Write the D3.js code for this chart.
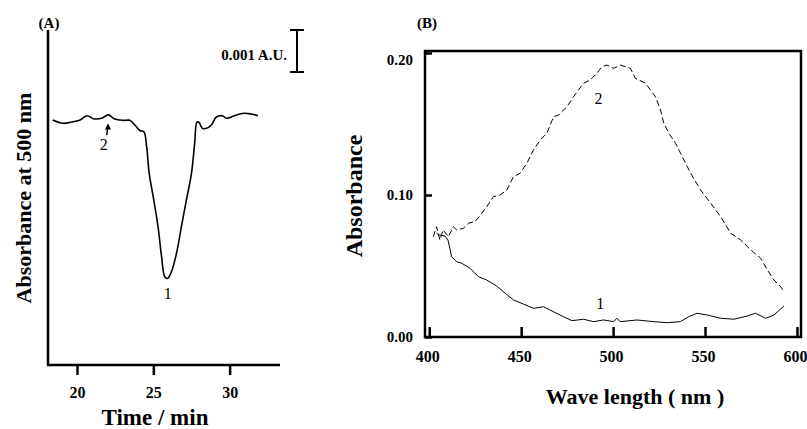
<!DOCTYPE html>
<html>
<head>
<meta charset="utf-8">
<script src="https://cdn.jsdelivr.net/npm/d3@7"></script>
<style>
  body { margin: 0; background: #fff; }
  text { font-family: "Liberation Serif", "Times New Roman", serif; fill: #000; }
</style>
</head>
<body>
<svg width="807" height="429"></svg>
<script>
// ---- data: panel A, chromatogram (time in min, relative absorbance in mAU) ----
var timeA = [18.41, 19.08, 19.65, 20.20, 20.67, 21.07, 21.61, 22.05, 22.48, 23.03, 23.46, 23.79,
             24.12, 24.38, 24.56, 24.73, 24.99, 25.31, 25.54, 25.75, 25.93, 26.19, 26.52, 26.84,
             27.17, 27.50, 27.71, 27.86, 27.99, 28.22, 28.48, 28.80, 29.13, 29.52, 29.78, 30.11,
             30.44, 30.98, 31.42, 31.85];
var absA  = [5.26, 5.18, 5.21, 5.26, 5.36, 5.29, 5.30, 5.38, 5.28, 5.25, 5.25, 5.14,
             5.01, 4.98, 4.63, 3.99, 3.44, 2.72, 2.01, 1.53, 1.49, 1.65, 2.09, 2.72,
             3.36, 3.99, 4.71, 5.21, 5.20, 5.06, 5.06, 5.14, 5.33, 5.36, 5.30, 5.33,
             5.38, 5.42, 5.40, 5.36];
var ticksA = [20, 25, 30];

// ---- data: panel B, spectra ----
var wave1 = [404.0, 405.8, 408.6, 410.2, 412.2, 414.9, 417.7, 422.2, 426.7, 431.3, 436.7, 441.3,
             445.8, 451.2, 456.7, 462.1, 467.6, 473.0, 477.6, 483.9, 489.4, 494.8, 500.3, 502.1,
             503.9, 513.0, 522.1, 529.4, 536.6, 541.1, 545.7, 551.2, 558.4, 565.7, 573.0, 577.5,
             583.0, 587.5, 592.9];
var abs1  = [0.0730, 0.0718, 0.0711, 0.0683, 0.0565, 0.0530, 0.0519, 0.0484, 0.0425, 0.0401, 0.0359, 0.0308,
             0.0261, 0.0232, 0.0202, 0.0213, 0.0178, 0.0143, 0.0115, 0.0125, 0.0108, 0.0120, 0.0108, 0.0132,
             0.0108, 0.0120, 0.0108, 0.0101, 0.0108, 0.0143, 0.0167, 0.0155, 0.0132, 0.0125, 0.0148, 0.0167,
             0.0132, 0.0155, 0.0218];
var wave2 = [402.2, 404.0, 405.8, 407.6, 410.4, 413.1, 414.9, 418.5, 421.3, 424.9, 428.6, 431.3,
             434.9, 438.5, 442.2, 445.8, 449.4, 453.1, 456.7, 460.3, 464.0, 467.6, 470.3, 474.9,
             478.5, 481.2, 483.9, 487.6, 491.2, 494.0, 496.7, 500.3, 503.9, 509.4, 512.1, 517.6,
             523.0, 525.8, 527.6, 530.3, 534.0, 537.6, 542.2, 547.6, 553.1, 558.5, 564.0, 569.4,
             574.9, 580.3, 583.9, 587.5, 591.2, 593.0];
var abs2  = [0.0706, 0.0777, 0.0683, 0.0754, 0.0706, 0.0777, 0.0754, 0.0765, 0.0801, 0.0812, 0.0871, 0.0918,
             0.0988, 0.1000, 0.1035, 0.1129, 0.1153, 0.1223, 0.1317, 0.1387, 0.1435, 0.1551, 0.1563, 0.1622,
             0.1692, 0.1739, 0.1787, 0.1810, 0.1857, 0.1904, 0.1915, 0.1892, 0.1915, 0.1892, 0.1822, 0.1787,
             0.1692, 0.1599, 0.1505, 0.1435, 0.1364, 0.1270, 0.1153, 0.1035, 0.0942, 0.0847, 0.0730, 0.0683,
             0.0613, 0.0554, 0.0472, 0.0401, 0.0354, 0.0319];
var ticksBx = [400, 450, 500, 550, 600];
var ticksBy = [0.00, 0.10, 0.20];

var svg = d3.select("svg");

// ================= panel A =================
var xA = d3.scaleLinear().domain([18.1, 33.3]).range([48, 280]);
var yA = d3.scaleLinear().domain([-0.57, 7.4]).range([365, 30]);

var gA = svg.append("g");

gA.append("g")
    .attr("transform", "translate(0," + yA.range()[0] + ")")
    .call(d3.axisBottom(xA).tickValues(ticksA).tickSizeInner(10).tickSizeOuter(0).tickPadding(12))
    .call(function (g) {
        g.select(".domain").attr("stroke-width", 2.5).attr("d", "M" + (xA.range()[0] - 1) + ",0H" + xA.range()[1]);
        g.selectAll(".tick line").attr("stroke-width", 2.5);
        g.selectAll(".tick text").attr("font-family", "Liberation Serif").attr("font-weight", "bold").attr("font-size", 16);
    });

gA.append("line")                                                      // left axis, no ticks
    .attr("x1", xA.range()[0]).attr("x2", xA.range()[0])
    .attr("y1", yA.range()[1]).attr("y2", yA.range()[0] + 1)
    .attr("stroke", "#000").attr("stroke-width", 2.5);

var lineA = d3.line()
    .x(function (d, i) { return xA(timeA[i]); })
    .y(function (d) { return yA(d); })
    .curve(d3.curveCatmullRom.alpha(0.5));

gA.append("path")
    .datum(absA)
    .attr("fill", "none")
    .attr("stroke", "#000")
    .attr("stroke-width", 1.6)
    .attr("stroke-linejoin", "round")
    .attr("d", lineA);

// scale bar 0.001 A.U. = 1 mAU
var barX = 297;
gA.append("path")
    .attr("d", "M" + (barX - 7) + "," + yA(7.4) + "H" + (barX + 7) +
               "M" + barX + "," + yA(7.4) + "V" + yA(6.4) +
               "M" + (barX - 7) + "," + yA(6.4) + "H" + (barX + 7))
    .attr("stroke", "#000").attr("stroke-width", 2).attr("fill", "none");
gA.append("text")
    .attr("x", 287).attr("y", 60)
    .attr("text-anchor", "end")
    .attr("font-weight", "bold").attr("font-size", 15)
    .text("0.001 A.U.");

// peak labels
gA.append("text").attr("x", xA(21.75)).attr("y", yA(4.55)).attr("text-anchor", "middle")
    .attr("font-size", 16).text("2");
gA.append("path")
    .attr("d", "M" + xA(21.95) + "," + yA(4.9) + "L" + xA(22.02) + "," + yA(5.15))
    .attr("stroke", "#000").attr("stroke-width", 1.5);
gA.append("path")
    .attr("d", "M" + (xA(22.03) - 3) + "," + (yA(5.15) + 5) + "L" + (xA(22.03)) + "," + (yA(5.15) - 1) +
               "L" + (xA(22.03) + 3) + "," + (yA(5.15) + 5) + "Z")
    .attr("fill", "#000");
gA.append("text").attr("x", xA(25.95)).attr("y", yA(1.0)).attr("text-anchor", "middle")
    .attr("font-size", 16).text("1");

gA.append("text").attr("x", 49).attr("y", 28)
    .attr("text-anchor", "middle").attr("font-weight", "bold").attr("font-size", 15).text("(A)");

gA.append("text")
    .attr("x", 155).attr("y", 425)
    .attr("text-anchor", "middle").attr("font-weight", "bold").attr("font-size", 23)
    .text("Time / min");

gA.append("text")
    .attr("transform", "translate(31,198) rotate(-90)")
    .attr("text-anchor", "middle").attr("font-weight", "bold").attr("font-size", 22)
    .text("Absorbance at 500 nm");

// ================= panel B =================
var xB = d3.scaleLinear().domain([397.7, 602.2]).range([425, 801]);
var yB = d3.scaleLinear().domain([0, 0.2014]).range([337, 51]);

var gB = svg.append("g");

gB.append("rect")
    .attr("x", xB.range()[0]).attr("y", yB.range()[1])
    .attr("width", xB.range()[1] - xB.range()[0])
    .attr("height", yB.range()[0] - yB.range()[1])
    .attr("fill", "none").attr("stroke", "#000").attr("stroke-width", 2.5);

gB.append("g")
    .attr("transform", "translate(0," + yB.range()[0] + ")")
    .call(d3.axisBottom(xB).tickValues(ticksBx).tickSizeInner(-10).tickSizeOuter(0).tickPadding(14))
    .call(function (g) {
        g.select(".domain").remove();
        g.selectAll(".tick line").attr("stroke-width", 2.5);
        g.selectAll(".tick text").attr("dx", -2).attr("font-family", "Liberation Serif").attr("font-weight", "bold").attr("font-size", 16);
    });

gB.append("g")
    .attr("transform", "translate(" + xB.range()[0] + ",0)")
    .call(d3.axisLeft(yB).tickValues(ticksBy).tickFormat(d3.format(".2f")).tickSizeInner(-7).tickSizeOuter(0).tickPadding(12))
    .call(function (g) {
        g.select(".domain").remove();
        g.selectAll(".tick line").attr("stroke-width", 2.5);
        g.selectAll(".tick text").attr("font-family", "Liberation Serif").attr("font-weight", "bold").attr("font-size", 15)
            .attr("dy", function (d) { return d === 0.20 ? "0.75em" : "0.32em"; });
    });

var line1 = d3.line()
    .x(function (d, i) { return xB(wave1[i]); })
    .y(function (d) { return yB(d); });
var line2 = d3.line()
    .x(function (d, i) { return xB(wave2[i]); })
    .y(function (d) { return yB(d); });

gB.append("path")
    .datum(abs1)
    .attr("fill", "none").attr("stroke", "#000").attr("stroke-width", 1)
    .attr("d", line1);

gB.append("path")
    .datum(abs2)
    .attr("fill", "none").attr("stroke", "#000").attr("stroke-width", 1)
    .attr("stroke-dasharray", "6,3")
    .attr("d", line2);

gB.append("text").attr("x", xB(492)).attr("y", yB(0.168) + 6).attr("text-anchor", "middle")
    .attr("font-size", 16).text("2");
gB.append("text").attr("x", xB(493)).attr("y", yB(0.024) + 6).attr("text-anchor", "middle")
    .attr("font-size", 16).text("1");

gB.append("text").attr("x", 427).attr("y", 28)
    .attr("text-anchor", "middle").attr("font-weight", "bold").attr("font-size", 15).text("(B)");

gB.append("text")
    .attr("x", 635).attr("y", 404)
    .attr("text-anchor", "middle").attr("font-weight", "bold").attr("font-size", 22)
    .text("Wave length ( nm )");

gB.append("text")
    .attr("transform", "translate(362,196) rotate(-90)")
    .attr("text-anchor", "middle").attr("font-weight", "bold").attr("font-size", 24)
    .text("Absorbance");
</script>
</body>
</html>
